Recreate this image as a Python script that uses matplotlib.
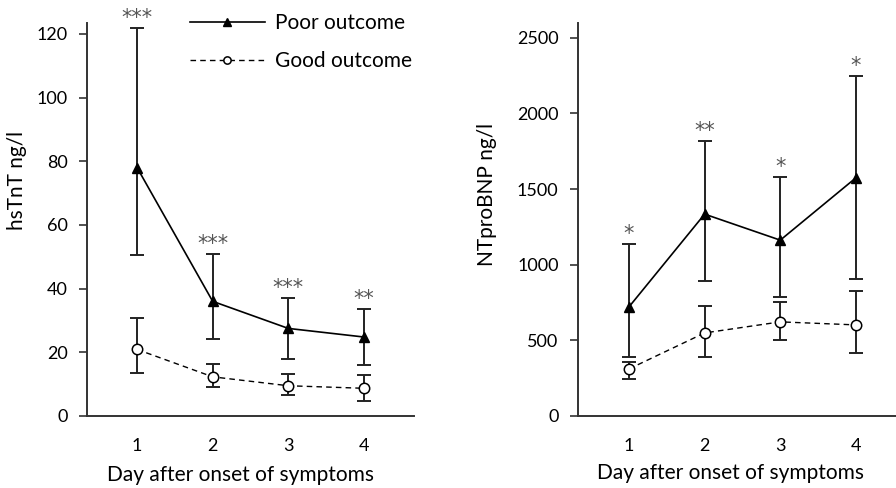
import numpy as np
import matplotlib.pyplot as plt

plt.rcParams['font.family'] = ['Lato', 'DejaVu Sans']

days = [1, 2, 3, 4]
day_labels = ['1', '2', '3', '4']

# hsTnT (ng/l)
tnt_poor = [78, 36, 27.5, 24.8]
tnt_poor_lo = [50.4, 24.1, 17.8, 16.0]
tnt_poor_hi = [121.7, 50.8, 37.0, 33.6]
tnt_good = [20.9, 12.3, 9.5, 8.7]
tnt_good_lo = [13.4, 9.1, 6.5, 4.8]
tnt_good_hi = [30.9, 16.4, 13.1, 12.9]
tnt_stars = ['***', '***', '***', '**']

# NTproBNP (ng/l)
bnp_poor = [721, 1334, 1162, 1574]
bnp_poor_lo = [390, 893, 786, 904]
bnp_poor_hi = [1134, 1817, 1581, 2247]
bnp_good = [311, 549, 622, 602]
bnp_good_lo = [243, 390, 501, 417]
bnp_good_hi = [355, 730, 753, 827]
bnp_stars = ['*', '**', '*', '*']

fig = plt.figure(figsize=(8.96, 4.88), dpi=100)
ax1 = fig.add_axes([87 / 896, 72 / 488, 327 / 896, 393 / 488])
ax2 = fig.add_axes([578 / 896, 72 / 488, 318 / 896, 393 / 488])


def panel(ax, poor, plo, phi, good, glo, ghi, stars, ymax, yticks, ylabel):
    poor = np.array(poor); plo = np.array(plo); phi = np.array(phi)
    good = np.array(good); glo = np.array(glo); ghi = np.array(ghi)
    ekw = dict(fmt='none', ecolor='#222222', elinewidth=1.4, capsize=4.8, capthick=1.4, zorder=2)
    ax.errorbar(days, poor, yerr=[poor - plo, phi - poor], **ekw)
    ax.errorbar(days, good, yerr=[good - glo, ghi - good], **ekw)
    ax.plot(days, poor, color='black', lw=1.2, marker='^', ms=7.5,
            mfc='black', mec='black', label='Poor outcome', zorder=3)
    ax.plot(days, good, color='black', lw=1.0, ls=(0, (4, 3)), marker='o', ms=7.5,
            mfc='white', mec='black', mew=1.1, label='Good outcome', zorder=3)
    for d, hi, s in zip(days, phi, stars):
        ax.annotate(s, (d, hi), xytext=(0, 0), textcoords='offset points',
                    ha='center', va='bottom', fontsize=15,
                    color='#555555', family='DejaVu Sans')
    ax.set_ylim(0, ymax)
    ax.set_yticks(yticks)
    ax.set_xticks(days)
    ax.set_xticklabels(day_labels)
    for side in ['top', 'right']:
        ax.spines[side].set_visible(False)
    for side in ['left', 'bottom']:
        ax.spines[side].set_color('#333333')
        ax.spines[side].set_linewidth(1.4)
    ax.tick_params(axis='y', direction='out', length=6, width=1.2, color='#333333',
                   pad=8, labelsize=13)
    ax.tick_params(axis='x', length=0, pad=16, labelsize=13)
    ax.set_ylabel(ylabel, fontsize=15)
    ax.set_xlabel('Day after onset of symptoms', fontsize=15)


panel(ax1, tnt_poor, tnt_poor_lo, tnt_poor_hi, tnt_good, tnt_good_lo, tnt_good_hi,
      tnt_stars, 123.4, [0, 20, 40, 60, 80, 100, 120], 'hsTnT ng/l')
ax1.set_xlim(0.338, 4.662)
ax1.yaxis.set_label_coords(-0.185, 0.6)
ax1.xaxis.set_label_coords(0.468, -0.125)

panel(ax2, bnp_poor, bnp_poor_lo, bnp_poor_hi, bnp_good, bnp_good_lo, bnp_good_hi,
      bnp_stars, 2597, [0, 500, 1000, 1500, 2000, 2500], 'NTproBNP ng/l')
ax2.set_xlim(0.326, 4.53)
ax2.yaxis.set_label_coords(-0.255, 0.565)
ax2.xaxis.set_label_coords(0.481, -0.12)

ax1.legend(loc='upper left', bbox_to_anchor=(0.283, 1.052), frameon=False,
           handlelength=3.6, handletextpad=0.48, labelspacing=0.87, markerscale=0.7,
           fontsize=15, borderpad=0)

fig.savefig('out.png', dpi=100)
